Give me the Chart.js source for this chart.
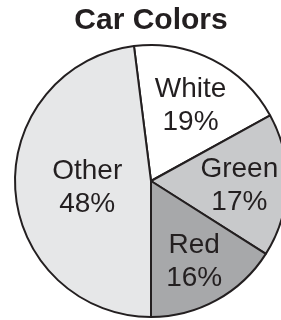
<!DOCTYPE html>
<html>
<head>
<meta charset="utf-8">
<script src="https://cdn.jsdelivr.net/npm/chart.js@4/dist/chart.umd.min.js"></script>
<style>
  html, body { margin: 0; padding: 0; background: #ffffff; overflow: hidden; }
  #c { display: block; }
</style>
</head>
<body>
<canvas id="c" width="281" height="320"></canvas>
<script>
const categories = ['White', 'Green', 'Red', 'Other'];
const percentages = [19, 17, 16, 48];
const sliceColors = ['#ffffff', '#c8c9cb', '#a7a8aa', '#e6e7e8'];
const chartTitle = 'Car Colors';

const FONT = "'Liberation Sans', Arial, Helvetica, sans-serif";
const INK = '#231f20';

const sliceLabels = {
  id: 'sliceLabels',
  afterDatasetsDraw(chart, args, opts) {
    const ctx = chart.ctx;
    const meta = chart.getDatasetMeta(0);
    ctx.save();
    ctx.fillStyle = INK;
    ctx.font = opts.size + 'px ' + FONT;
    ctx.textAlign = 'center';
    ctx.textBaseline = 'alphabetic';
    meta.data.forEach((arc, i) => {
      const p = arc.getProps(['x', 'y', 'startAngle', 'endAngle', 'outerRadius'], true);
      const mid = (p.startAngle + p.endAngle) / 2;
      const r = p.outerRadius * opts.radii[i];
      const cx = p.x + Math.cos(mid) * r + opts.dx[i];
      const cy = p.y + Math.sin(mid) * r;
      const lh = opts.lineHeight;
      const cap = opts.size * 0.716;
      const top = cy - (lh + cap) / 2;
      ctx.fillText(categories[i], cx, top + cap);
      ctx.fillText(percentages[i] + '%', cx, top + cap + lh);
    });
    ctx.restore();
  }
};

new Chart(document.getElementById('c'), {
  type: 'pie',
  data: {
    labels: categories,
    datasets: [{
      data: percentages,
      backgroundColor: sliceColors,
      borderColor: INK,
      borderWidth: 2,
      borderAlign: 'center'
    }]
  },
  options: {
    responsive: false,
    animation: false,
    rotation: -7.2,
    radius: 136,
    layout: { padding: { left: 21, right: 0, top: 0, bottom: 0 } },
    plugins: {
      legend: { display: false },
      tooltip: { enabled: false },
      title: {
        display: true,
        text: chartTitle,
        color: INK,
        font: { family: FONT, size: 30, weight: 'bold', lineHeight: 1.2 },
        padding: { top: 3, bottom: 3 }
      },
      sliceLabels: {
        size: 28,
        lineHeight: 33,
        radii: [0.64, 0.65, 0.66, 0.47],
        dx: [0, 0, 0, 0]
      }
    }
  },
  plugins: [sliceLabels]
});
</script>
</body>
</html>
